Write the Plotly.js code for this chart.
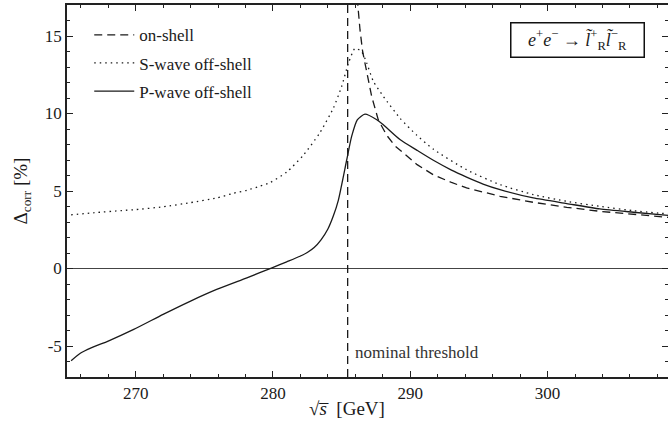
<!DOCTYPE html>
<html>
<head>
<meta charset="utf-8">
<script src="https://cdn.plot.ly/plotly-3.0.1.min.js"></script>
<style>html,body{margin:0;padding:0;background:#fff;}#chart{width:668px;height:423px;}</style>
</head>
<body>
<div id="chart"></div>
<script>
// ---- data ----
const onShellX = [286.05, 286.17, 286.34, 286.53, 286.7, 286.95, 287.19, 287.67, 288.28, 288.9, 289.62, 290.5, 291.68, 293.0, 294.1, 295.5, 296.54, 298.96, 301.4, 303.8, 306.25, 308.8];
const onShellY = [18.3, 17.0, 15.39, 14.0, 13.25, 12.2, 11.1, 9.59, 8.6, 7.9, 7.34, 6.7, 6.05, 5.55, 5.2, 4.88, 4.66, 4.27, 3.95, 3.69, 3.48, 3.3];

const sWaveX = [265.3, 267.0, 269.0, 270.0, 272.0, 274.0, 275.9, 277.1, 278.1, 279.0, 279.8, 281.0, 282.2, 283.4, 284.4, 285.0, 285.5, 285.98, 286.46, 286.83, 287.3, 288.04, 289.25, 290.47, 291.68, 294.1, 296.54, 298.96, 301.4, 303.8, 306.25, 308.8];
const sWaveY = [3.46, 3.6, 3.74, 3.8, 3.98, 4.25, 4.55, 4.85, 5.05, 5.3, 5.55, 6.22, 7.3, 8.74, 10.35, 11.74, 13.25, 14.2, 13.99, 13.25, 12.1, 11.1, 9.7, 8.6, 7.7, 6.37, 5.41, 4.77, 4.33, 4.01, 3.73, 3.52];

const pWaveX = [265.3, 265.97, 266.8, 268.0, 269.86, 272.0, 274.0, 275.9, 278.1, 279.93, 281.0, 281.97, 282.5, 283.0, 283.5, 284.0, 284.4, 284.76, 285.37, 285.73, 286.14, 286.7, 287.56, 288.04, 289.25, 290.5, 291.68, 293.0, 294.1, 295.3, 296.54, 298.96, 301.4, 303.8, 306.25, 308.8];
const pWaveY = [-5.95, -5.47, -5.11, -4.68, -3.93, -2.96, -2.1, -1.35, -0.6, 0.04, 0.43, 0.79, 1.03, 1.35, 1.85, 2.55, 3.4, 4.4, 7.0, 8.52, 9.59, 9.96, 9.6, 9.27, 8.32, 7.62, 6.98, 6.35, 5.9, 5.45, 5.09, 4.55, 4.19, 3.84, 3.63, 3.43];

const threshold = 285.44;
const seriesNames = ["on-shell", "S-wave off-shell", "P-wave off-shell"];
const yTickVals = [-5, 0, 5, 10, 15];
const yTickText = ["-5", "0", "5", "10", "15"];
const xTickVals = [270, 280, 290, 300];

// ---- chart ----
const serif = "Liberation Serif";
const ink = "#1a1a1a";

function draw() {
  const traces = [
    {x: onShellX, y: onShellY, name: seriesNames[0], mode: "lines", legendgroup: "a",
     line: {color: ink, width: 1.3, dash: "8px,5px"}},
    {x: sWaveX, y: sWaveY, name: seriesNames[1], mode: "lines", legendgroup: "b",
     line: {color: ink, width: 1.3, dash: "1.5px,4px", shape: "spline", smoothing: 0.6}},
    {x: pWaveX, y: pWaveY, name: seriesNames[2], mode: "lines", legendgroup: "c",
     line: {color: ink, width: 1.3, shape: "spline", smoothing: 0.6}}
  ];

  const axisCommon = {
    showline: true, linecolor: "#222", linewidth: 1.5, mirror: "ticks",
    ticks: "inside", ticklen: 6, tickwidth: 1, tickcolor: "#222",
    showgrid: false, tickfont: {family: serif, size: 17, color: ink}
  };

  const layout = {
    width: 668, height: 423,
    margin: {l: 67, r: 0, t: 5, b: 46},
    paper_bgcolor: "#fff", plot_bgcolor: "#fff",
    font: {family: serif, size: 16, color: ink},
    showlegend: true,
    legend: {x: 0.037, y: 0.967, xanchor: "left", yanchor: "top",
             bgcolor: "rgba(0,0,0,0)", font: {family: serif, size: 17, color: ink},
             traceorder: "grouped", tracegroupgap: 3, itemwidth: 40},
    xaxis: Object.assign({}, axisCommon, {
      range: [265, 308.77], tickmode: "array", tickvals: xTickVals, zeroline: false,
      minor: {tickmode: "linear", tick0: 0, dtick: 2, ticks: "inside", ticklen: 3, tickcolor: "#222", showgrid: false}
    }),
    yaxis: Object.assign({}, axisCommon, {
      range: [-7, 17], tickmode: "array", tickvals: yTickVals, ticktext: yTickText,
      zeroline: true, zerolinecolor: "#444", zerolinewidth: 1.3,
      minor: {tickmode: "linear", tick0: 0, dtick: 1, ticks: "inside", ticklen: 3, tickcolor: "#222", showgrid: false},
      title: {text: "Δ<sub>corr</sub> [%]", font: {family: serif, size: 19, color: ink}, standoff: 12}
    }),
    shapes: [
      {type: "line", xref: "x", yref: "paper", x0: threshold, x1: threshold, y0: 0, y1: 1,
       line: {color: ink, width: 1.3, dash: "8px,5px"}}
    ],
    annotations: [
      {xref: "paper", yref: "paper", x: 0.85, y: 0.905, xanchor: "center", yanchor: "middle",
       showarrow: false, width: 128, height: 29, borderpad: 2,
       bordercolor: "#111", borderwidth: 1.5, bgcolor: "#fff",
       text: "<i>e</i><sup>+</sup><i>e</i><sup>−</sup> → <i>l̃</i><sup>+</sup><sub>R</sub><i>l̃</i><sup>−</sup><sub>R</sub>",
       font: {family: serif, size: 18, color: ink}},
      {xref: "x", yref: "y", x: threshold, y: -5.4, xanchor: "left", yanchor: "middle", xshift: 5,
       showarrow: false, text: "nominal threshold", font: {family: serif, size: 17, color: "#333"}},
      {xref: "paper", yref: "paper", x: 0.466, y: -0.085, xanchor: "center", yanchor: "middle",
       showarrow: false, text: "√<i>s̅</i>  [GeV]", font: {family: serif, size: 19, color: ink}}
    ]
  };

  Plotly.newPlot("chart", traces, layout, {displayModeBar: false});
}

if (document.fonts && document.fonts.load) {
  Promise.all([
    document.fonts.load('16px "Liberation Serif"'),
    document.fonts.load('italic 16px "Liberation Serif"')
  ]).then(draw, draw);
} else {
  draw();
}
</script>
</body>
</html>
